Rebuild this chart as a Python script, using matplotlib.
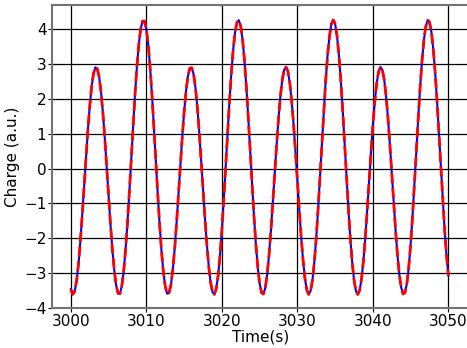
import numpy as np
import matplotlib
matplotlib.use("Agg")
import matplotlib.pyplot as plt

# ---- data (charge every 0.25 s) ---------------------------------------------
t_start = 3000.0
t_step = 0.25
charge = [
    -3.46, -3.61, -3.53, -3.24, -2.76, -2.11, -1.35, -0.53, 0.30, 1.10,
    1.79, 2.35, 2.73, 2.91, 2.87, 2.63, 2.19, 1.59, 0.86, 0.05,
    -0.79, -1.60, -2.32, -2.92, -3.35, -3.58, -3.59, -3.37, -2.94, -2.32,
    -1.55, -0.66, 0.29, 1.24, 2.14, 2.93, 3.57, 4.02, 4.24, 4.24,
    4.00, 3.55, 2.90, 2.10, 1.20, 0.25, -0.70, -1.58, -2.35, -2.96,
    -3.38, -3.59, -3.57, -3.34, -2.90, -2.30, -1.56, -0.75, 0.08, 0.89,
    1.62, 2.22, 2.65, 2.88, 2.90, 2.72, 2.33, 1.77, 1.06, 0.27,
    -0.56, -1.39, -2.14, -2.78, -3.26, -3.54, -3.61, -3.45, -3.08, -2.50,
    -1.77, -0.90, 0.03, 0.99, 1.91, 2.73, 3.42, 3.92, 4.20, 4.26,
    4.09, 3.69, 3.09, 2.33, 1.45, 0.50, -0.45, -1.35, -2.16, -2.82,
    -3.29, -3.56, -3.60, -3.42, -3.04, -2.47, -1.77, -0.97, -0.14, 0.68,
    1.44, 2.07, 2.55, 2.84, 2.92, 2.79, 2.45, 1.93, 1.26, 0.49,
    -0.34, -1.17, -1.95, -2.62, -3.15, -3.48, -3.61, -3.51, -3.20, -2.67,
    -1.98, -1.14, -0.22, 0.74, 1.67, 2.53, 3.25, 3.80, 4.15, 4.27,
    4.16, 3.81, 3.27, 2.54, 1.69, 0.76, -0.20, -1.12, -1.96, -2.66,
    -3.19, -3.51, -3.61, -3.49, -3.16, -2.64, -1.97, -1.19, -0.36, 0.47,
    1.25, 1.92, 2.44, 2.78, 2.92, 2.84, 2.56, 2.08, 1.45, 0.70,
    -0.12, -0.96, -1.75, -2.46, -3.03, -3.41, -3.60, -3.56, -3.30, -2.83,
    -2.18, -1.37, -0.47, 0.48, 1.43, 2.31, 3.07, 3.68, 4.08, 4.26,
    4.21, 3.93, 3.43, 2.75, 1.93, 1.01, 0.06, -0.88, -1.75, -2.49,
    -3.07,
]
time = t_start + t_step * np.arange(len(charge))

x_ticks = [3000, 3010, 3020, 3030, 3040, 3050]
y_ticks = [-4, -3, -2, -1, 0, 1, 2, 3, 4]

# ---- figure ------------------------------------------------------------------
fig = plt.figure(figsize=(4.67, 3.48), dpi=100)
ax = fig.add_axes([0.1113, 0.115, 0.8925, 0.8707])

ax.plot(time, charge, color="blue", lw=1.5)
ax.plot(time, charge, color="red", lw=2, ls="--")

ax.set_xlim(2997.5, 3052.7)
ax.set_ylim(-4, 4.7)
ax.set_xticks(x_ticks)
ax.set_yticks(y_ticks)
ax.tick_params(labelsize=11, length=3, pad=1)
ax.grid(True, color="black", lw=0.9)
for s in ax.spines.values():
    s.set_color("0.45")
    s.set_linewidth(1.5)

ax.set_xlabel("Time(s)", fontsize=11, labelpad=1)
ax.set_ylabel("Charge (a.u.)", fontsize=11, labelpad=3)

fig.savefig("out.png")
